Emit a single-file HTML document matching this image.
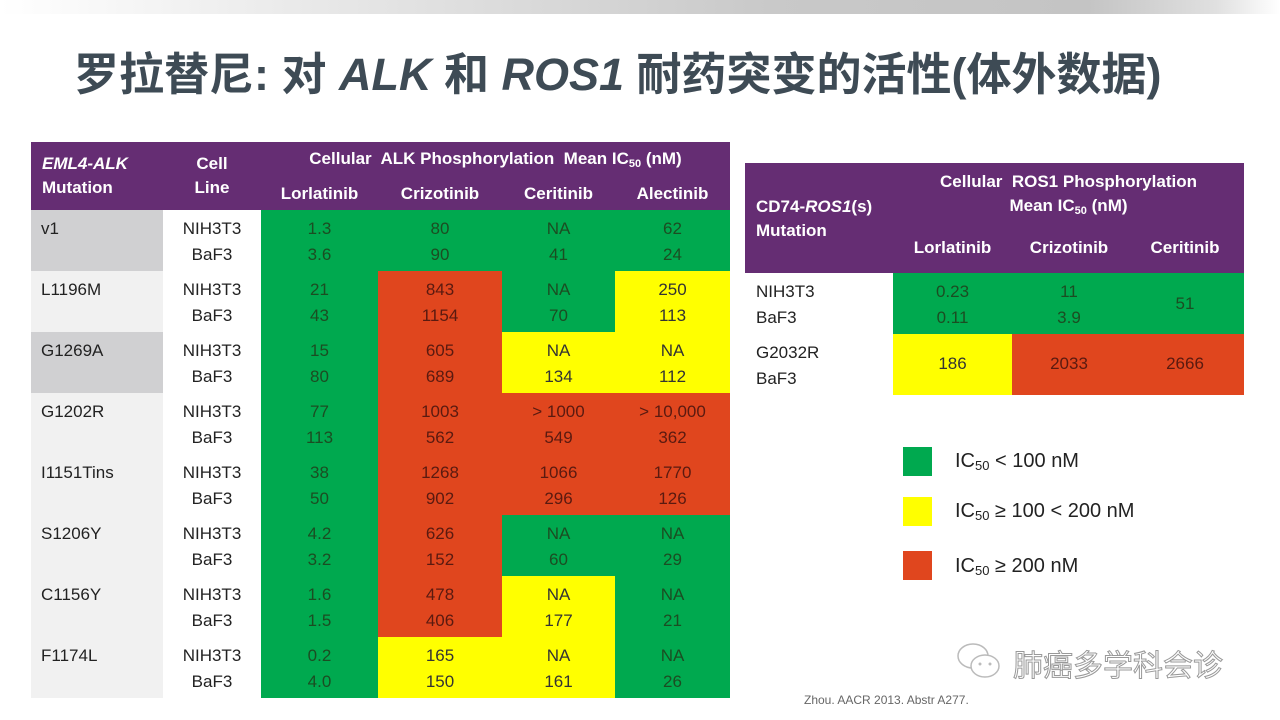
<!DOCTYPE html>
<html><head><meta charset="utf-8"><style>
*{margin:0;padding:0;box-sizing:border-box}
body{width:1280px;height:720px;background:#fff;position:relative;overflow:hidden;font-family:"Liberation Sans","Noto Sans CJK SC",sans-serif}
.a{position:absolute}
.bar{left:0;top:0;width:1280px;height:14px;background:linear-gradient(90deg,#fff 0%,#e8e8e8 25%,#c9c9c9 60%,#c4c4c4 85%,#e0e0e0 95%,#fff 100%)}
.title{left:74px;top:38px;font-size:45px;font-weight:bold;color:#3e4b55;white-space:nowrap;font-family:"Liberation Sans","Noto Sans CJK SC",sans-serif;letter-spacing:0px}
.title i{font-style:italic}
.ph{background:#652d73}
.h{color:#fff;font-weight:bold;font-size:17px;position:absolute;text-align:center;white-space:nowrap;line-height:24px}
.c{position:absolute;text-align:center;font-size:17px;line-height:26px;white-space:nowrap}
.G{background:#00a94f;color:#1b4d22}
.R{background:#e0461e;color:#5a1a10}
.Y{background:#ffff00;color:#333}
.t{position:absolute;font-size:17px;color:#222;line-height:26px;white-space:nowrap}
sub{font-size:11px;vertical-align:-3px;line-height:0}
</style></head><body>
<div class="a bar"></div>
<div class="a title">罗拉替尼: 对 <i>ALK</i> 和 <i>ROS1</i> 耐药突变的活性(体外数据)</div>

<div class="a ph" style="left:31px;top:142px;width:699px;height:68px"></div>
<div class="h" style="left:42px;top:152px;text-align:left"><i>EML4-ALK</i><br>Mutation</div>
<div class="h" style="left:163px;top:152px;width:98px">Cell<br>Line</div>
<div class="h" style="left:261px;top:147px;width:469px">Cellular&nbsp; ALK Phosphorylation&nbsp; Mean IC<sub>50</sub> (nM)</div>
<div class="h" style="left:261px;top:182px;width:117px">Lorlatinib</div>
<div class="h" style="left:378px;top:182px;width:124px">Crizotinib</div>
<div class="h" style="left:502px;top:182px;width:113px">Ceritinib</div>
<div class="h" style="left:615px;top:182px;width:115px">Alectinib</div>

<div class="a" style="left:31px;top:210px;width:132px;height:488px;background:#f1f1f1"></div>
<div class="a" style="left:31px;top:210px;width:132px;height:61px;background:#d0d0d2"></div>
<div class="a" style="left:31px;top:332px;width:132px;height:61px;background:#d0d0d2"></div>

<div class="a G" style="left:261px;top:210px;width:469px;height:488px"></div>
<div class="a R" style="left:378px;top:271px;width:124px;height:366px"></div>
<div class="a Y" style="left:378px;top:637px;width:124px;height:61px"></div>
<div class="a Y" style="left:615px;top:271px;width:115px;height:61px"></div>
<div class="a Y" style="left:502px;top:332px;width:228px;height:61px"></div>
<div class="a R" style="left:502px;top:393px;width:228px;height:122px"></div>
<div class="a Y" style="left:502px;top:576px;width:113px;height:122px"></div>

<div class="t" style="left:41px;top:216px">v1</div>
<div class="t" style="left:41px;top:277px">L1196M</div>
<div class="t" style="left:41px;top:338px">G1269A</div>
<div class="t" style="left:41px;top:399px">G1202R</div>
<div class="t" style="left:41px;top:460px">I1151Tins</div>
<div class="t" style="left:41px;top:521px">S1206Y</div>
<div class="t" style="left:41px;top:582px">C1156Y</div>
<div class="t" style="left:41px;top:643px">F1174L</div>

<div class="c" style="left:163px;top:216px;width:98px;color:#222">NIH3T3<br>BaF3</div>
<div class="c" style="left:163px;top:277px;width:98px;color:#222">NIH3T3<br>BaF3</div>
<div class="c" style="left:163px;top:338px;width:98px;color:#222">NIH3T3<br>BaF3</div>
<div class="c" style="left:163px;top:399px;width:98px;color:#222">NIH3T3<br>BaF3</div>
<div class="c" style="left:163px;top:460px;width:98px;color:#222">NIH3T3<br>BaF3</div>
<div class="c" style="left:163px;top:521px;width:98px;color:#222">NIH3T3<br>BaF3</div>
<div class="c" style="left:163px;top:582px;width:98px;color:#222">NIH3T3<br>BaF3</div>
<div class="c" style="left:163px;top:643px;width:98px;color:#222">NIH3T3<br>BaF3</div>

<div class="c" style="left:261px;top:216px;width:117px;color:#1b4d22">1.3<br>3.6</div>
<div class="c" style="left:261px;top:277px;width:117px;color:#1b4d22">21<br>43</div>
<div class="c" style="left:261px;top:338px;width:117px;color:#1b4d22">15<br>80</div>
<div class="c" style="left:261px;top:399px;width:117px;color:#1b4d22">77<br>113</div>
<div class="c" style="left:261px;top:460px;width:117px;color:#1b4d22">38<br>50</div>
<div class="c" style="left:261px;top:521px;width:117px;color:#1b4d22">4.2<br>3.2</div>
<div class="c" style="left:261px;top:582px;width:117px;color:#1b4d22">1.6<br>1.5</div>
<div class="c" style="left:261px;top:643px;width:117px;color:#1b4d22">0.2<br>4.0</div>
<div class="c" style="left:378px;top:216px;width:124px;color:#1b4d22">80<br>90</div>
<div class="c" style="left:378px;top:277px;width:124px;color:#5a1a10">843<br>1154</div>
<div class="c" style="left:378px;top:338px;width:124px;color:#5a1a10">605<br>689</div>
<div class="c" style="left:378px;top:399px;width:124px;color:#5a1a10">1003<br>562</div>
<div class="c" style="left:378px;top:460px;width:124px;color:#5a1a10">1268<br>902</div>
<div class="c" style="left:378px;top:521px;width:124px;color:#5a1a10">626<br>152</div>
<div class="c" style="left:378px;top:582px;width:124px;color:#5a1a10">478<br>406</div>
<div class="c" style="left:378px;top:643px;width:124px;color:#333">165<br>150</div>
<div class="c" style="left:502px;top:216px;width:113px;color:#1b4d22">NA<br>41</div>
<div class="c" style="left:502px;top:277px;width:113px;color:#1b4d22">NA<br>70</div>
<div class="c" style="left:502px;top:338px;width:113px;color:#333">NA<br>134</div>
<div class="c" style="left:502px;top:399px;width:113px;color:#5a1a10">&gt; 1000<br>549</div>
<div class="c" style="left:502px;top:460px;width:113px;color:#5a1a10">1066<br>296</div>
<div class="c" style="left:502px;top:521px;width:113px;color:#1b4d22">NA<br>60</div>
<div class="c" style="left:502px;top:582px;width:113px;color:#333">NA<br>177</div>
<div class="c" style="left:502px;top:643px;width:113px;color:#333">NA<br>161</div>
<div class="c" style="left:615px;top:216px;width:115px;color:#1b4d22">62<br>24</div>
<div class="c" style="left:615px;top:277px;width:115px;color:#333">250<br>113</div>
<div class="c" style="left:615px;top:338px;width:115px;color:#333">NA<br>112</div>
<div class="c" style="left:615px;top:399px;width:115px;color:#5a1a10">&gt; 10,000<br>362</div>
<div class="c" style="left:615px;top:460px;width:115px;color:#5a1a10">1770<br>126</div>
<div class="c" style="left:615px;top:521px;width:115px;color:#1b4d22">NA<br>29</div>
<div class="c" style="left:615px;top:582px;width:115px;color:#1b4d22">NA<br>21</div>
<div class="c" style="left:615px;top:643px;width:115px;color:#1b4d22">NA<br>26</div>

<div class="a ph" style="left:745px;top:163px;width:499px;height:110px"></div>
<div class="h" style="left:756px;top:195px;text-align:left">CD74-<i>ROS1</i>(s)<br>Mutation</div>
<div class="h" style="left:893px;top:170px;width:351px">Cellular&nbsp; ROS1 Phosphorylation<br>Mean IC<sub>50</sub> (nM)</div>
<div class="h" style="left:893px;top:236px;width:119px">Lorlatinib</div>
<div class="h" style="left:1012px;top:236px;width:114px">Crizotinib</div>
<div class="h" style="left:1126px;top:236px;width:118px">Ceritinib</div>

<div class="a G" style="left:893px;top:273px;width:351px;height:61px"></div>
<div class="a Y" style="left:893px;top:334px;width:119px;height:61px"></div>
<div class="a R" style="left:1012px;top:334px;width:232px;height:61px"></div>

<div class="t" style="left:756px;top:279px">NIH3T3<br>BaF3</div>
<div class="t" style="left:756px;top:340px">G2032R<br>BaF3</div>
<div class="c" style="left:893px;top:279px;width:119px;color:#1b4d22">0.23<br>0.11</div>
<div class="c" style="left:1012px;top:279px;width:114px;color:#1b4d22">11<br>3.9</div>
<div class="c" style="left:1126px;top:291px;width:118px;color:#1b4d22">51</div>
<div class="c" style="left:893px;top:351px;width:119px;color:#333">186</div>
<div class="c" style="left:1012px;top:351px;width:114px;color:#5a1a10">2033</div>
<div class="c" style="left:1126px;top:351px;width:118px;color:#5a1a10">2666</div>

<div class="a G" style="left:903px;top:447px;width:29px;height:29px"></div>
<div class="a Y" style="left:903px;top:497px;width:29px;height:29px"></div>
<div class="a R" style="left:903px;top:551px;width:29px;height:29px"></div>
<div class="t" style="left:955px;top:448px;font-size:20px">IC<sub style="font-size:13px">50</sub> &lt; 100 nM</div>
<div class="t" style="left:955px;top:498px;font-size:20px">IC<sub style="font-size:13px">50</sub> ≥ 100 &lt; 200 nM</div>
<div class="t" style="left:955px;top:553px;font-size:20px">IC<sub style="font-size:13px">50</sub> ≥ 200 nM</div>

<svg class="a" style="left:955px;top:640px" width="50" height="44" viewBox="0 0 50 44">
<ellipse cx="18" cy="16" rx="15" ry="12" fill="#fff" stroke="#bbb" stroke-width="1.5"/>
<ellipse cx="30" cy="26" rx="14" ry="11" fill="#fff" stroke="#bbb" stroke-width="1.5"/>
<circle cx="25" cy="24" r="1.5" fill="#bbb"/><circle cx="35" cy="24" r="1.5" fill="#bbb"/>
</svg>
<div class="t" style="left:1013px;top:645px;font-size:30px;line-height:36px;color:#fff;-webkit-text-stroke:1px #999;font-family:'Noto Sans CJK SC',sans-serif">肺癌多学科会诊</div>
<div class="t" style="left:804px;top:692px;font-size:12px;color:#666;line-height:16px">Zhou. AACR 2013. Abstr A277.</div>
</body></html>
